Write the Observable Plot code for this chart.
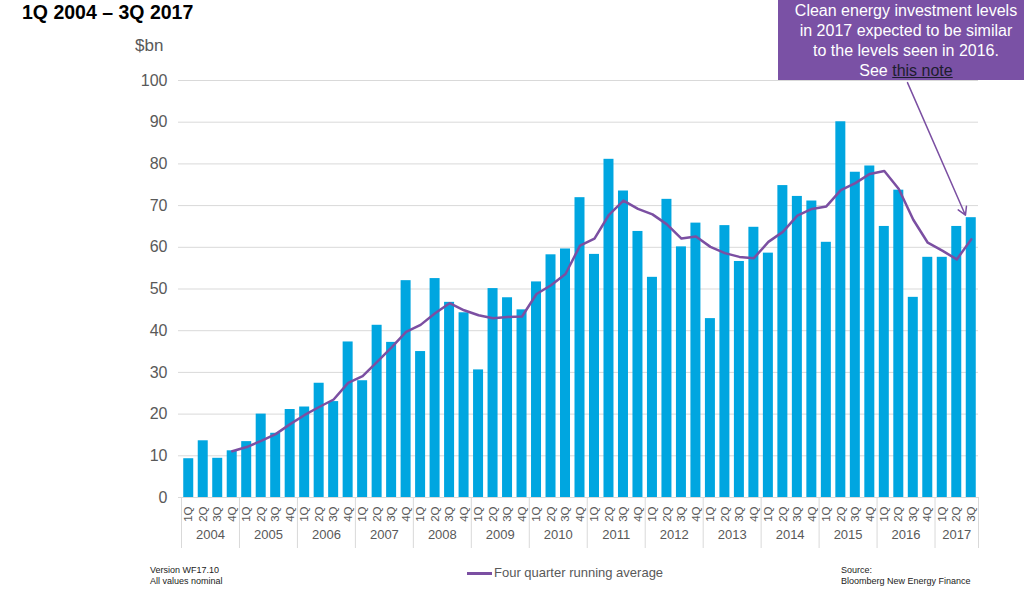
<!DOCTYPE html>
<html><head><meta charset="utf-8">
<script src="https://cdn.jsdelivr.net/npm/d3@7"></script>
<script src="https://cdn.jsdelivr.net/npm/@observablehq/plot@0.6"></script>
<style>
body{margin:0;width:1024px;height:598px;overflow:hidden;background:#fff;font-family:Arial,"Liberation Sans",sans-serif;position:relative}
#chart{position:absolute;left:0;top:0}
.abs{position:absolute;white-space:nowrap}
</style></head><body>
<div id="chart"></div>
<div class="abs" style="left:22px;top:0px;font-size:19.5px;font-weight:bold;color:#000;line-height:24px">1Q 2004 – 3Q 2017</div>
<div class="abs" style="left:135px;top:36px;font-size:17px;color:#595959;line-height:20px">$bn</div>
<div class="abs" style="left:778px;top:0;width:256px;height:80px;background:#7A51A5;color:#fff;font-size:16px;line-height:20px;text-align:center;padding-top:1px;box-sizing:border-box">Clean energy investment levels<br>in 2017 expected to be similar<br>to the levels seen in 2016.<br>See <span style="color:#1d1d2e;text-decoration:underline">this note</span></div>
<div class="abs" style="left:467px;top:565px;font-size:13px;color:#595959;line-height:16px"><span style="display:inline-block;width:25px;height:2.5px;background:#7B4FA2;vertical-align:middle;margin-right:2px"></span>Four quarter running average</div>
<div class="abs" style="left:150px;top:565px;font-size:9px;color:#222;line-height:11px">Version WF17.10<br>All values nominal</div>
<div class="abs" style="left:841px;top:565px;font-size:9px;color:#222;line-height:11px">Source:<br>Bloomberg New Energy Finance</div>
<script>
const years = [2004, 2005, 2006, 2007, 2008, 2009, 2010, 2011, 2012, 2013, 2014, 2015, 2016, 2017];
const quarterNames = ["1Q", "2Q", "3Q", "4Q"];
const yTicks = [0, 10, 20, 30, 40, 50, 60, 70, 80, 90, 100];
// Clean energy investment, $bn, 1Q 2004 .. 3Q 2017
const investment = [
  9.3, 13.6, 9.4, 11.2,
  13.4, 20.0, 15.4, 21.1,
  21.7, 27.4, 23.0, 37.3,
  28.0, 41.3, 37.2, 52.0,
  35.0, 52.5, 46.8, 44.3,
  30.6, 50.1, 47.9, 45.0,
  51.7, 58.2, 59.6, 71.9,
  58.3, 81.1, 73.5, 63.8,
  52.8, 71.5, 60.1, 65.8,
  42.9, 65.2, 56.6, 64.8,
  58.6, 74.8, 72.2, 71.1,
  61.2, 90.1, 78.0, 79.5,
  65.0, 73.7, 48.0, 57.6,
  57.6, 65.0, 67.1
];
// Four quarter running average, from 4Q 2004
const avgStart = "2004 4Q";
const runningAvg = [
  11.1, 12.1, 13.6, 15.2,
  17.6, 19.8, 21.7, 23.5,
  27.5, 29.1, 32.5, 36.0,
  39.7, 41.4, 44.2, 46.6,
  44.9, 43.7, 43.0, 43.3,
  43.4, 48.8, 50.9, 53.6,
  60.4, 62.1, 67.8, 71.2,
  69.2, 67.9, 65.5, 62.1,
  62.6, 60.1, 58.6, 57.7,
  57.4, 61.3, 63.7, 67.6,
  69.2, 69.8, 73.7, 75.4,
  77.6, 78.3, 74.0, 66.6,
  61.1, 59.2, 57.1, 61.9
];
const note = [{from: "2016 3Q", to: "2017 3Q", yFrom: 99.5, yTo: 67.7}];

const allKeys = years.flatMap(y => quarterNames.map(q => y + " " + q));
const keys = allKeys.slice(0, investment.length);
const bars = investment.map((v, i) => ({key: keys[i], value: v}));
const s0 = keys.indexOf(avgStart);
const avg = runningAvg.map((v, i) => ({key: keys[s0 + i], value: v}));
const yearQuarters = years.map(y => ({year: y, n: keys.filter(k => k.startsWith(y + " ")).length}));
const fullYears = yearQuarters.filter(d => d.n === 4);
const partYears = yearQuarters.filter(d => d.n === 3);

const W = 1024, H = 598, mL = 181, mR = 46, mT = 80, mB = 101;
const step = (W - mL - mR) / keys.length;
const grey = "#595959", purple = "#7B4FA2", blue = "#00A6E0";

const chart = Plot.plot({
  width: W, height: H,
  marginLeft: mL, marginRight: mR, marginTop: mT, marginBottom: mB,
  style: {fontFamily: 'Arial, "Liberation Sans", sans-serif', background: "transparent", overflow: "visible"},
  x: {domain: keys, paddingInner: 0.31, paddingOuter: 0.155, round: false, axis: null},
  y: {domain: [0, 100], axis: null},
  marks: [
    Plot.ruleY(yTicks, {stroke: "#d9d9d9", strokeWidth: 1, insetLeft: -3}),
    Plot.barY(bars, {x: "key", y: "value", fill: blue}),
    Plot.lineY(avg, {x: "key", y: "value", stroke: purple, strokeWidth: 2.5}),
    Plot.axisY({ticks: yTicks, tickSize: 0, tickPadding: 14, fontSize: 16, color: grey, label: null}),
    Plot.axisX({tickRotate: -90, tickSize: 0, tickPadding: 9, fontSize: 11.5, color: grey, label: null,
      tickFormat: k => k.split(" ")[1]}),
    Plot.text(fullYears, {x: d => d.year + " 2Q", text: d => String(d.year), frameAnchor: "bottom", dy: 41, dx: step / 2, fontSize: 13, fill: grey}),
    Plot.text(partYears, {x: d => d.year + " 2Q", text: d => String(d.year), frameAnchor: "bottom", dy: 41, fontSize: 13, fill: grey}),
    Plot.ruleX(years.map(y => y + " 1Q"), {dx: -step / 2, insetTop: H - mT - mB, insetBottom: -51, stroke: "#d9d9d9"}),
    Plot.ruleX([keys[keys.length - 1]], {dx: step / 2, insetTop: H - mT - mB, insetBottom: -51, stroke: "#d9d9d9"}),
    Plot.arrow(note, {x1: "from", x2: "to", y1: "yFrom", y2: "yTo", dx: -5.8, stroke: purple, strokeWidth: 1.5, headLength: 9})
  ]
});
document.getElementById("chart").appendChild(chart);
</script>
</body></html>
